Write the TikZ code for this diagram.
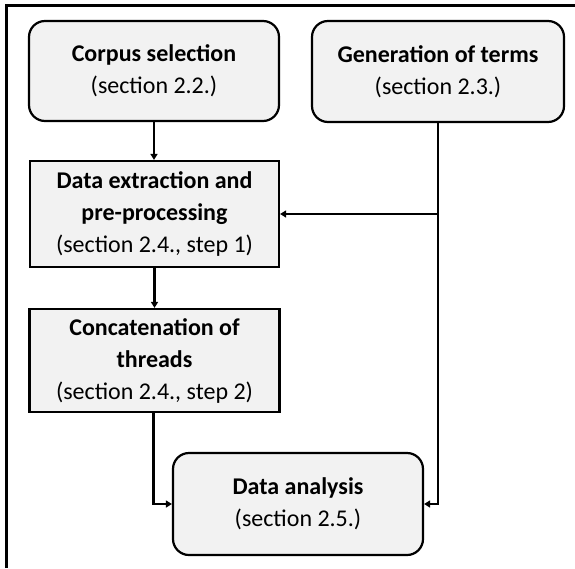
\documentclass[tikz,border=0pt]{standalone}
\usepackage{fontspec}
\setmainfont{Carlito}
\usetikzlibrary{arrows.meta,calc}
\begin{document}
\begin{tikzpicture}[x=1pt,y=-1pt,
  every node/.style={font=\fontsize{24}{32}\selectfont, align=center, text=black},
  stage/.style={draw=black, line width=2.2pt, fill=black!5, inner sep=0pt},
  roundstage/.style={stage, rounded corners=16pt},
  flow/.style={draw=black, line width=2.2pt, -{Triangle[length=6pt,width=7pt]}},
  plainline/.style={draw=black, line width=2.2pt},
  frameline/.style={draw=black, line width=2.8pt}]
  \useasboundingbox (0,0) rectangle (575,568);
  % frame edges
  \draw[frameline] (6.5,568) -- (6.5,5.5) -- (575,5.5);

  \node[roundstage, minimum width=250pt, minimum height=100pt] (corpus) at (154,71)
    {\textbf{Corpus selection}\\(section 2.2.)};
  \node[roundstage, minimum width=252pt, minimum height=101pt] (terms) at (438,71.5)
    {\textbf{Generation of terms}\\(section 2.3.)};
  \node[stage, minimum width=249pt, minimum height=106pt] (extract) at (154.5,214)
    {\textbf{Data extraction and}\\\textbf{pre-processing}\\(section 2.4., step 1)};
  \node[stage, minimum width=250pt, minimum height=103pt] (concat) at (154.5,360.5)
    {\textbf{Concatenation of}\\\textbf{threads}\\(section 2.4., step 2)};
  \node[roundstage, minimum width=250pt, minimum height=102pt] (analysis) at (298,504)
    {\textbf{Data analysis}\\(section 2.5.)};

  \coordinate (split) at (terms.south |- extract.east);

  \draw[flow] (corpus.south) -- (corpus.south |- extract.north);
  \draw[flow] (extract.south) -- (extract.south |- concat.north);
  \draw[plainline] (terms.south) -- (split);
  \draw[flow] (split) -- (extract.east);
  \draw[flow] (split) |- (analysis.east);
  \draw[flow] ([xshift=-1pt]concat.south) |- (analysis.west);
\end{tikzpicture}
\end{document}
